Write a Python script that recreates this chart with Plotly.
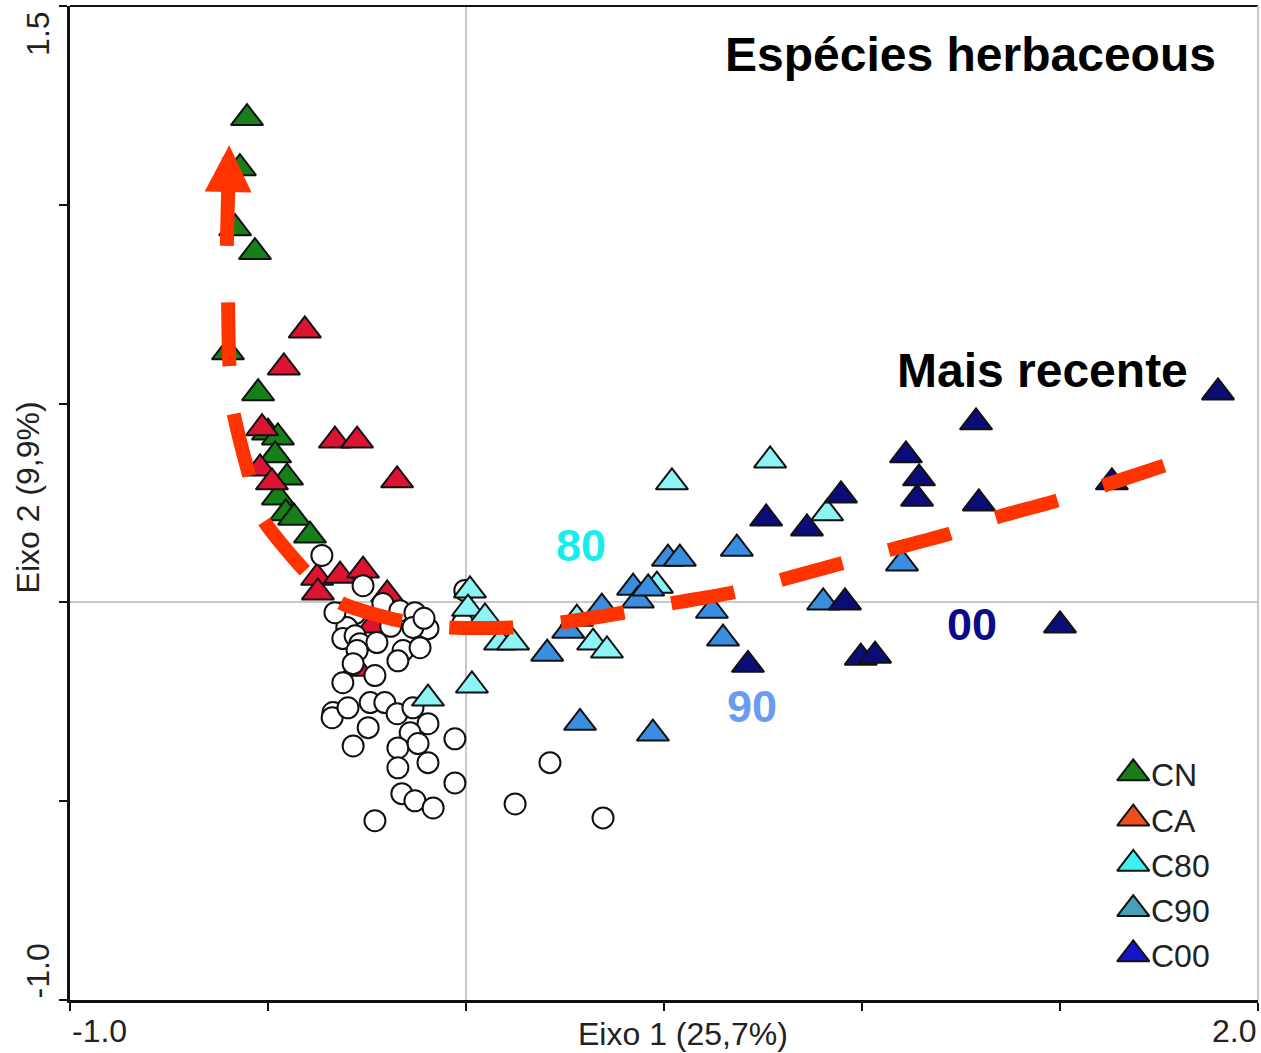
import plotly.graph_objects as go

FONT = "Liberation Sans, Arial, sans-serif"

# ---- sample scores on the first two ordination axes ----
cn_x = [-0.553, -0.571, -0.583, -0.533, -0.601, -0.525, -0.500, -0.475, -0.482, -0.452,
        -0.475, -0.455, -0.434, -0.394]
cn_y = [1.218, 1.092, 0.941, 0.881, 0.629, 0.526, 0.427, 0.415, 0.370, 0.314,
        0.264, 0.224, 0.213, 0.168]

ca_x = [-0.407, -0.460, -0.515, -0.331, -0.275, -0.174, -0.520, -0.490, -0.376, -0.318,
        -0.260, -0.374, -0.199, -0.235, -0.275]
ca_y = [0.684, 0.591, 0.438, 0.407, 0.407, 0.307, 0.337, 0.302, 0.062, 0.067,
        0.080, 0.025, 0.020, -0.058, -0.167]

# species scores (open circles)
sp_x = [-0.364, -0.260, -0.210, -0.311, -0.280, -0.167, -0.129, -0.096, -0.134, -0.301,
        -0.311, -0.280, -0.268, -0.225, -0.275, -0.159, -0.116, -0.172, -0.311, -0.230,
        -0.285, -0.336, -0.338, -0.298, -0.242, -0.205, -0.174, -0.134, -0.096, -0.247,
        -0.285, -0.141, -0.172, -0.121, -0.096, -0.172, -0.162, -0.129, -0.083, -0.230,
        -0.028, -0.028, -0.003, -0.008, 0.212, 0.124, 0.346, -0.331, -0.106, -0.190]
sp_y = [0.118, 0.042, -0.003, -0.026, -0.028, -0.021, -0.026, -0.066, -0.063, -0.063,
        -0.091, -0.084, -0.104, -0.101, -0.121, -0.121, -0.114, -0.147, -0.202, -0.184,
        -0.154, -0.277, -0.290, -0.265, -0.252, -0.252, -0.280, -0.265, -0.305, -0.315,
        -0.361, -0.328, -0.366, -0.355, -0.403, -0.416, -0.481, -0.499, -0.517, -0.549,
        -0.343, -0.454, 0.030, -0.053, -0.403, -0.507, -0.542, -0.026, -0.040, -0.060]

c80_x = [0.010, 0.005, 0.048, 0.086, 0.119, 0.015, -0.096, 0.280, 0.321, 0.356,
         0.520, 0.768, 0.482, 0.912]
c80_y = [0.030, -0.016, -0.038, -0.101, -0.101, -0.209, -0.242, -0.041, -0.101, -0.121,
         0.302, 0.357, 0.042, 0.224]

c90_x = [0.205, 0.258, 0.343, 0.422, 0.434, 0.460, 0.510, 0.540, 0.684, 0.621,
         0.649, 0.288, 0.472, 0.902, 1.101]
c90_y = [-0.129, -0.071, -0.013, 0.037, 0.005, 0.035, 0.110, 0.110, 0.135, -0.021,
         -0.091, -0.303, -0.330, 0.000, 0.098]

c00_x = [0.712, 0.758, 0.861, 0.947, 0.957, 0.997, 1.033, 1.111, 1.144, 1.139,
         1.288, 1.295, 1.500, 1.631, 1.899]
c00_y = [-0.157, 0.211, 0.186, 0.269, 0.000, -0.139, -0.134, 0.370, 0.312, 0.261,
         0.453, 0.249, -0.058, 0.302, 0.528]

# temporal trend drawn through the groups (recent -> natural)
trend_x = [1.763, 1.492, 1.336, 1.222, 1.061, 0.947, 0.790, 0.674, 0.515, 0.396,
           0.237, 0.116, -0.045, -0.167, -0.318, -0.412, -0.515, -0.551, -0.588,
           -0.598, -0.601]
trend_y = [0.344, 0.256, 0.213, 0.173, 0.130, 0.098, 0.055, 0.025, -0.003, -0.026,
           -0.051, -0.063, -0.063, -0.046, 0.000, 0.085, 0.213, 0.332, 0.483,
           0.609, 0.767]
arrow_tail = (-0.604, 0.893)
arrow_tip = (-0.598, 1.150)

legend_labels = ["CN", "CA", "C80", "C90", "C00"]
legend_colors = ["#187c18", "#ec4e1c", "#3ef0f0", "#45a0b8", "#1414c8"]

TRI_SIZE = 28

fig = go.Figure()

def triangles(xs, ys, color):
    return go.Scatter(
        x=xs, y=ys, mode="markers", showlegend=False, hoverinfo="skip",
        marker=dict(symbol="triangle-up", size=TRI_SIZE, color=color,
                    line=dict(color="#111111", width=2)),
    )

fig.add_trace(triangles(cn_x, cn_y, "#177f17"))
fig.add_trace(triangles(ca_x, ca_y, "#dc1432"))
fig.add_trace(go.Scatter(
    x=sp_x, y=sp_y, mode="markers", showlegend=False, hoverinfo="skip",
    marker=dict(symbol="circle", size=21, color="white",
                line=dict(color="#111111", width=2)),
))
fig.add_trace(triangles(c80_x, c80_y, "#8cf4f4"))
fig.add_trace(triangles(c90_x, c90_y, "#3a8ee0"))
fig.add_trace(triangles(c00_x, c00_y, "#0c0c78"))

fig.add_trace(go.Scatter(
    x=trend_x, y=trend_y, mode="lines", showlegend=False, hoverinfo="skip",
    line=dict(color="#ff3300", width=14, dash="64px,48px", shape="spline", smoothing=0.6),
))

fig.add_annotation(
    x=arrow_tip[0], y=arrow_tip[1], ax=arrow_tail[0], ay=arrow_tail[1],
    xref="x", yref="y", axref="x", ayref="y", text="", showarrow=True,
    arrowhead=2, arrowsize=0.67, arrowwidth=14, arrowcolor="#ff3300", standoff=0,
)

# key, drawn on an overlay frame spanning the plot area
leg_top, leg_step = 0.228, 0.0455
leg_y = [leg_top - i * leg_step for i in range(len(legend_labels))]
fig.add_trace(go.Scatter(
    x=[0.895] * len(legend_labels), y=leg_y, xaxis="x2", yaxis="y2",
    mode="markers", showlegend=False, hoverinfo="skip",
    marker=dict(symbol="triangle-up", size=TRI_SIZE, color=legend_colors,
                line=dict(color="#111111", width=2)),
))
for lab, yy in zip(legend_labels, leg_y):
    fig.add_annotation(x=0.908, y=yy - 0.002, xref="paper", yref="paper", text=lab,
                       showarrow=False, xanchor="left", yanchor="middle",
                       font=dict(family=FONT, size=32, color="#222222"))

# group labels
fig.add_annotation(x=1.275, y=1.377, text="<b>Espécies herbaceous</b>", showarrow=False,
                   font=dict(family=FONT, size=48, color="black"))
fig.add_annotation(x=1.457, y=0.584, text="<b>Mais recente</b>", showarrow=False,
                   font=dict(family=FONT, size=48, color="black"))
fig.add_annotation(x=0.290, y=0.143, text="<b>80</b>", showarrow=False,
                   font=dict(family=FONT, size=45, color="#14eeee"))
fig.add_annotation(x=0.722, y=-0.262, text="<b>90</b>", showarrow=False,
                   font=dict(family=FONT, size=45, color="#6a9cf0"))
fig.add_annotation(x=1.278, y=-0.056, text="<b>00</b>", showarrow=False,
                   font=dict(family=FONT, size=45, color="#0a0a8c"))

# axis end labels and titles
tick_font = dict(family=FONT, size=32, color="#222222")
fig.add_annotation(x=0, y=-0.031, xref="paper", yref="paper", text="-1.0", showarrow=False,
                   xanchor="left", yanchor="middle", font=tick_font)
fig.add_annotation(x=1, y=-0.031, xref="paper", yref="paper", text="2.0", showarrow=False,
                   xanchor="right", yanchor="middle", font=tick_font)
fig.add_annotation(x=-0.027, y=0.996, xref="paper", yref="paper", text="1.5", showarrow=False,
                   textangle=-90, xanchor="center", yanchor="top", font=tick_font)
fig.add_annotation(x=-0.027, y=0, xref="paper", yref="paper", text="-1.0", showarrow=False,
                   textangle=-90, xanchor="center", yanchor="bottom", font=tick_font)
fig.add_annotation(x=0.516, y=-0.034, xref="paper", yref="paper", text="Eixo 1 (25,7%)",
                   showarrow=False, xanchor="center", yanchor="middle", font=tick_font)
fig.add_annotation(x=-0.035, y=0.506, xref="paper", yref="paper", text="Eixo 2 (9,9%)",
                   showarrow=False, textangle=-90, xanchor="center", yanchor="middle",
                   font=tick_font)

# frame: black top edge, light grey right edge
fig.add_shape(type="line", xref="paper", yref="paper", x0=0, x1=1, y0=1, y1=1,
              line=dict(color="#111111", width=2))
fig.add_shape(type="line", xref="paper", yref="paper", x0=1, x1=1, y0=0, y1=1,
              line=dict(color="#c8c8c8", width=2))

axis_common = dict(
    dtick=0.5, ticks="outside", ticklen=8, tickwidth=2, tickcolor="#111111",
    showticklabels=False, showline=True, linecolor="#111111", linewidth=3,
    showgrid=False, zeroline=True, zerolinecolor="#c8c8c8", zerolinewidth=1.5,
)
fig.update_layout(
    width=1261, height=1053, autosize=False,
    margin=dict(l=70, r=3, t=6, b=53),
    paper_bgcolor="white", plot_bgcolor="white",
    showlegend=False,
    xaxis=dict(range=[-1.0, 2.0], tick0=-1.0, **axis_common),
    yaxis=dict(range=[-1.0, 1.5], tick0=-1.0, **axis_common),
    xaxis2=dict(overlaying="x", range=[0, 1], visible=False),
    yaxis2=dict(overlaying="y", range=[0, 1], visible=False),
)

fig.write_html("out.html")
